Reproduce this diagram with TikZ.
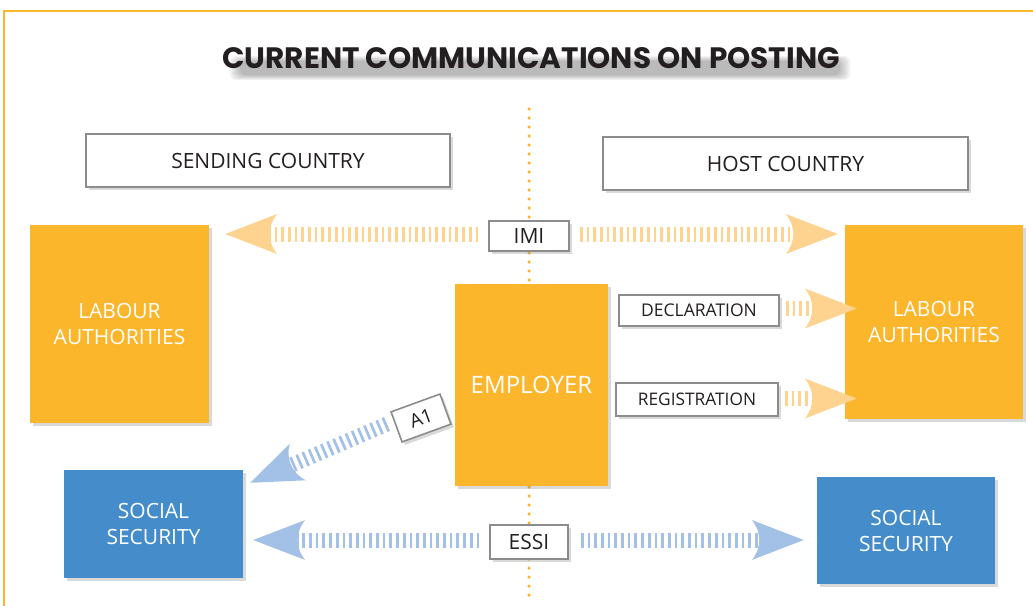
\documentclass[tikz,border=0pt]{standalone}
\usepackage{fontspec}
\setmainfont{Open Sans}
\newfontfamily\titlefont{Poppins}
\usetikzlibrary{calc,shadows}
\definecolor{framecol}{HTML}{FBB62B}
\definecolor{orbox}{HTML}{FBB62B}
\definecolor{orlight}{HTML}{FDD38F}
\definecolor{bbox}{HTML}{458CCB}
\definecolor{blight}{HTML}{A3C0E6}
\definecolor{grayb}{HTML}{8C8C8C}
\definecolor{txt}{HTML}{231F20}
\definecolor{dotcol}{HTML}{F7B22E}
\begin{document}
\begin{tikzpicture}[x=1pt,y=1pt,
  shd/.style={drop shadow={opacity=0.3,shadow xshift=3pt,shadow yshift=-3pt}},
  orangebox/.style={fill=orbox,draw=none,text=white,align=center,font=\fontsize{21}{26}\selectfont,shd},
  bluebox/.style={fill=bbox,draw=none,text=white,align=center,font=\fontsize{21}{26}\selectfont,shd},
  label box/.style={fill=white,draw=grayb,line width=1.6pt,text=txt,shd},
  oshaft/.style={draw=orlight,line width=15pt,dash pattern=on 2.7pt off 4pt},
  bshaft/.style={draw=blight,line width=15pt,dash pattern=on 2.7pt off 4pt},
  dotline/.style={draw=dotcol,line width=3.5pt,line cap=round,dash pattern=on 0pt off 9pt},
  ahead/.pic={\fill[#1] (0,0) -- (-52,20) .. controls (-42,8) and (-42,-8) .. (-52,-20) -- cycle;}
]
\useasboundingbox (0,0) rectangle (1033,-605);
% frame
\draw[framecol,line width=2.5pt] (4,-606) -- (4,-11) -- (1035,-11);
% title with soft shadow
\foreach \i in {0,...,5}{
  \fill[black,opacity=0.05,rounded corners=6pt] (230+\i*2,-56-\i) rectangle (850-\i*2,-80+\i);
}
\node[text=txt,font=\titlefont\bfseries\fontsize{29.5}{32}\selectfont] (title) at (531,-58) {CURRENT COMMUNICATIONS ON POSTING};
% dotted divider
\coordinate (dtop) at (529,-109);
\coordinate (dbot) at (529,-595);
\draw[dotline] (dtop) -- (dbot);
% country boxes
\node[label box,minimum width=364pt,minimum height=53pt,font=\fontsize{21}{24}\selectfont] (sc) at (268,-160.5) {SENDING COUNTRY};
\node[label box,minimum width=365pt,minimum height=53pt,font=\fontsize{21}{24}\selectfont] (hc) at (785.5,-163.5) {HOST COUNTRY};
% main boxes
\node[orangebox,minimum width=179pt,minimum height=198pt] (lal) at (119.5,-324) {LABOUR\\AUTHORITIES};
\node[orangebox,minimum width=178pt,minimum height=194pt] (lar) at (934,-322) {LABOUR\\AUTHORITIES};
\node[orangebox,minimum width=153pt,minimum height=202pt,font=\fontsize{24}{28}\selectfont] (emp) at (531.5,-385) {EMPLOYER};
\node[bluebox,minimum width=179pt,minimum height=108pt] (ssl) at (153.5,-524) {SOCIAL\\SECURITY};
\node[bluebox,minimum width=178pt,minimum height=107pt] (ssr) at (906,-530.5) {SOCIAL\\SECURITY};
% label boxes
\node[label box,minimum width=80pt,minimum height=30pt,inner sep=0pt,font=\fontsize{21}{23}\selectfont] (imi) at (529,-236) {IMI};
\node[label box,minimum width=160pt,minimum height=31pt,inner sep=0pt,font=\fontsize{17.5}{19}\selectfont] (decl) at (699,-310.5) {DECLARATION};
\node[label box,minimum width=162pt,minimum height=33pt,inner sep=0pt,font=\fontsize{17.3}{19}\selectfont] (reg) at (697,-399.5) {REGISTRATION};
\node[label box,minimum width=78pt,minimum height=34pt,inner sep=0pt,font=\fontsize{21}{23}\selectfont] (essi) at (529,-542) {ESSI};
\node[label box,minimum width=52pt,minimum height=32pt,inner sep=0pt,rotate=20,font=\fontsize{19}{21}\selectfont] (a1) at (421,-418) {A1};
% IMI arrows
\coordinate (imiL) at ($(lal.east)+(16,0)$);
\coordinate (imiR) at ($(lar.west)+(-7,0)$);
\draw[oshaft] ($(imi.west)+(-10,2)$) -- ($(imiL|-imi.west)+(45,2)$);
\pic[rotate=180] at ($(imiL|-imi.west)+(0,2)$) {ahead=orlight};
\draw[oshaft] ($(imi.east)+(10,2)$) -- ($(imiR|-imi.east)+(-45,2)$);
\pic at ($(imiR|-imi.east)+(0,2)$) {ahead=orlight};
% declaration / registration arrows
\coordinate (declT) at ($(lar.west|-decl.east)+(12,2)$);
\coordinate (regT) at ($(lar.west|-reg.east)+(12,1)$);
\draw[oshaft] ($(decl.east)+(6,2)$) -- ($(declT)+(-45,0)$);
\pic at (declT) {ahead=orlight};
\draw[oshaft] ($(reg.east)+(6,1)$) -- ($(regT)+(-45,0)$);
\pic at (regT) {ahead=orlight};
% A1 arrow
\coordinate (a1tip) at ($(ssl.north east)+(7,-13)$);
\coordinate (a1start) at ($(a1.center)+(-34,-6)$);
\draw[bshaft] (a1start) -- ($(a1tip)!45pt!(a1start)$);
\pic[rotate=203.6] at (a1tip) {ahead=blight};
% ESSI arrows
\coordinate (essiL) at ($(ssl.east)+(10,0)$);
\coordinate (essiR) at ($(ssr.west)+(-13,0)$);
\draw[bshaft] ($(essi.west)+(-10,2)$) -- ($(essiL|-essi.west)+(45,2)$);
\pic[rotate=180] at ($(essiL|-essi.west)+(0,2)$) {ahead=blight};
\draw[bshaft] ($(essi.east)+(12,2)$) -- ($(essiR|-essi.east)+(-45,2)$);
\pic at ($(essiR|-essi.east)+(0,2)$) {ahead=blight};
\end{tikzpicture}
\end{document}
